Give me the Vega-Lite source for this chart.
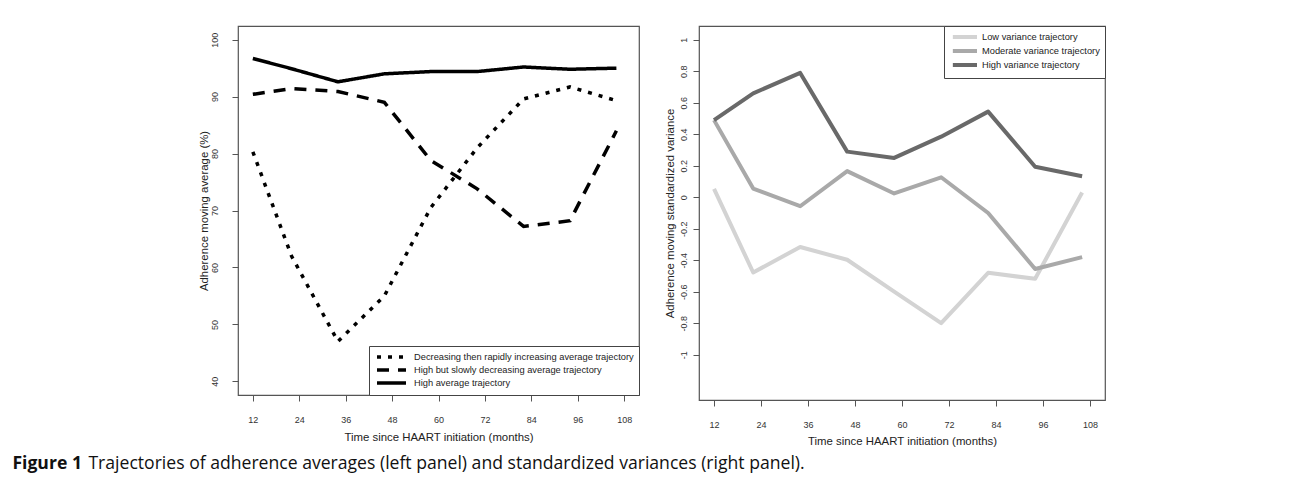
{
  "$schema": "https://vega.github.io/schema/vega-lite/v6.json",
  "background": "white",
  "padding": {"left": 12, "top": 24, "right": 0, "bottom": 0},
  "datasets": {
    "avg": [
      {"trajectory": "Decreasing then rapidly increasing average trajectory", "month": 12, "adherence": 80.3},
      {"trajectory": "Decreasing then rapidly increasing average trajectory", "month": 22, "adherence": 62},
      {"trajectory": "Decreasing then rapidly increasing average trajectory", "month": 34, "adherence": 47},
      {"trajectory": "Decreasing then rapidly increasing average trajectory", "month": 46, "adherence": 55},
      {"trajectory": "Decreasing then rapidly increasing average trajectory", "month": 58, "adherence": 70.5},
      {"trajectory": "Decreasing then rapidly increasing average trajectory", "month": 70, "adherence": 81},
      {"trajectory": "Decreasing then rapidly increasing average trajectory", "month": 82, "adherence": 89.6},
      {"trajectory": "Decreasing then rapidly increasing average trajectory", "month": 94, "adherence": 91.7},
      {"trajectory": "Decreasing then rapidly increasing average trajectory", "month": 106, "adherence": 89.3},
      {"trajectory": "High but slowly decreasing average trajectory", "month": 12, "adherence": 90.4},
      {"trajectory": "High but slowly decreasing average trajectory", "month": 22, "adherence": 91.4},
      {"trajectory": "High but slowly decreasing average trajectory", "month": 34, "adherence": 90.9},
      {"trajectory": "High but slowly decreasing average trajectory", "month": 46, "adherence": 89},
      {"trajectory": "High but slowly decreasing average trajectory", "month": 58, "adherence": 78.8},
      {"trajectory": "High but slowly decreasing average trajectory", "month": 70, "adherence": 73.8},
      {"trajectory": "High but slowly decreasing average trajectory", "month": 82, "adherence": 67.2},
      {"trajectory": "High but slowly decreasing average trajectory", "month": 94, "adherence": 68.2},
      {"trajectory": "High but slowly decreasing average trajectory", "month": 106, "adherence": 84},
      {"trajectory": "High average trajectory", "month": 12, "adherence": 96.7},
      {"trajectory": "High average trajectory", "month": 22, "adherence": 94.9},
      {"trajectory": "High average trajectory", "month": 34, "adherence": 92.6},
      {"trajectory": "High average trajectory", "month": 46, "adherence": 94.0},
      {"trajectory": "High average trajectory", "month": 58, "adherence": 94.4},
      {"trajectory": "High average trajectory", "month": 70, "adherence": 94.4},
      {"trajectory": "High average trajectory", "month": 82, "adherence": 95.2},
      {"trajectory": "High average trajectory", "month": 94, "adherence": 94.8},
      {"trajectory": "High average trajectory", "month": 106, "adherence": 95.0}
    ],
    "var": [
      {"trajectory": "Low variance trajectory", "month": 12, "variance": 0.053},
      {"trajectory": "Low variance trajectory", "month": 22, "variance": -0.478},
      {"trajectory": "Low variance trajectory", "month": 34, "variance": -0.316},
      {"trajectory": "Low variance trajectory", "month": 46, "variance": -0.397},
      {"trajectory": "Low variance trajectory", "month": 58, "variance": -0.6},
      {"trajectory": "Low variance trajectory", "month": 70, "variance": -0.8},
      {"trajectory": "Low variance trajectory", "month": 82, "variance": -0.48},
      {"trajectory": "Low variance trajectory", "month": 94, "variance": -0.518},
      {"trajectory": "Low variance trajectory", "month": 106, "variance": 0.03},
      {"trajectory": "Moderate variance trajectory", "month": 12, "variance": 0.49},
      {"trajectory": "Moderate variance trajectory", "month": 22, "variance": 0.055},
      {"trajectory": "Moderate variance trajectory", "month": 34, "variance": -0.057},
      {"trajectory": "Moderate variance trajectory", "month": 46, "variance": 0.166},
      {"trajectory": "Moderate variance trajectory", "month": 58, "variance": 0.024},
      {"trajectory": "Moderate variance trajectory", "month": 70, "variance": 0.127},
      {"trajectory": "Moderate variance trajectory", "month": 82, "variance": -0.1},
      {"trajectory": "Moderate variance trajectory", "month": 94, "variance": -0.456},
      {"trajectory": "Moderate variance trajectory", "month": 106, "variance": -0.38},
      {"trajectory": "High variance trajectory", "month": 12, "variance": 0.49},
      {"trajectory": "High variance trajectory", "month": 22, "variance": 0.66},
      {"trajectory": "High variance trajectory", "month": 34, "variance": 0.79},
      {"trajectory": "High variance trajectory", "month": 46, "variance": 0.29},
      {"trajectory": "High variance trajectory", "month": 58, "variance": 0.25},
      {"trajectory": "High variance trajectory", "month": 70, "variance": 0.385},
      {"trajectory": "High variance trajectory", "month": 82, "variance": 0.544},
      {"trajectory": "High variance trajectory", "month": 94, "variance": 0.194},
      {"trajectory": "High variance trajectory", "month": 106, "variance": 0.134}
    ]
  },
  "title": {
    "text": "Trajectories of adherence averages (left panel) and standardized variances (right panel).",
    "orient": "bottom",
    "anchor": "start",
    "font": "Open Sans",
    "fontSize": 17.6,
    "fontWeight": "normal",
    "color": "#111",
    "offset": 0,
    "dx": 76,
    "dy": -17.6
  },
  "vconcat": [
    {
      "title": {
        "text": "Figure 1",
        "orient": "bottom",
        "anchor": "start",
        "font": "Open Sans",
        "fontSize": 17.6,
        "fontWeight": "bold",
        "color": "#111",
        "offset": 8,
        "dx": -185
      },
      "resolve": {
        "scale": {"x": "independent", "y": "independent", "color": "independent", "strokeDash": "independent"},
        "legend": {"color": "independent", "strokeDash": "independent"}
      },
      "hconcat": [
        {
          "width": 401,
          "height": 369,
          "data": {"name": "avg"},
          "mark": {"type": "line", "color": "black", "strokeWidth": 3.5, "strokeCap": "butt"},
          "encoding": {
            "x": {
              "field": "month", "type": "quantitative",
              "scale": {"domain": [8.16, 111.84], "nice": false, "zero": false},
              "axis": {"values": [12, 24, 36, 48, 60, 72, 84, 96, 108], "title": "Time since HAART initiation (months)", "labelPadding": 14, "titlePadding": 7}
            },
            "y": {
              "field": "adherence", "type": "quantitative",
              "scale": {"domain": [37.6, 102.4], "nice": false, "zero": false},
              "axis": {"values": [40, 50, 60, 70, 80, 90, 100], "title": "Adherence moving average (%)", "labelAngle": -90, "labelAlign": "center", "labelBaseline": "bottom", "labelPadding": 13, "titlePadding": 1}
            },
            "strokeDash": {
              "field": "trajectory", "type": "nominal",
              "scale": {
                "domain": ["Decreasing then rapidly increasing average trajectory", "High but slowly decreasing average trajectory", "High average trajectory"],
                "range": [[4, 7], [12, 9], [1, 0]]
              },
              "legend": {"title": null, "orient": "bottom-right", "offset": 0, "symbolType": "M-0.75,0H6.5", "symbolSize": 64, "symbolStrokeColor": "black", "symbolStrokeWidth": 3.5, "labelOffset": 28, "padding": 5, "rowPadding": -6}
            }
          }
        },
        {
          "width": 406,
          "height": 374,
          "data": {"name": "var"},
          "mark": {"type": "line", "strokeWidth": 4, "strokeJoin": "round"},
          "encoding": {
            "x": {
              "field": "month", "type": "quantitative",
              "scale": {"domain": [8.16, 111.84], "nice": false, "zero": false},
              "axis": {"values": [12, 24, 36, 48, 60, 72, 84, 96, 108], "title": "Time since HAART initiation (months)", "labelPadding": 14, "titlePadding": 6}
            },
            "y": {
              "field": "variance", "type": "quantitative",
              "scale": {"domain": [-1.288, 1.088], "nice": false, "zero": false},
              "axis": {"values": [-1, -0.8, -0.6, -0.4, -0.2, 0, 0.2, 0.4, 0.6, 0.8, 1], "labelExpr": "toString(round(datum.value * 10) / 10)", "title": "Adherence moving standardized variance", "labelAngle": -90, "labelAlign": "center", "labelBaseline": "bottom", "labelPadding": 5, "titlePadding": 4}
            },
            "color": {
              "field": "trajectory", "type": "nominal",
              "scale": {
                "domain": ["Low variance trajectory", "Moderate variance trajectory", "High variance trajectory"],
                "range": ["#d3d3d3", "#a9a9a9", "#696969"]
              },
              "legend": {"title": null, "orient": "top-right", "offset": 0, "symbolType": "M-0.6,0H6.1", "symbolSize": 52, "symbolStrokeWidth": 4, "labelOffset": 21, "padding": 5, "rowPadding": -8}
            }
          }
        }
      ],
      "spacing": 22
    }
  ],
  "config": {
    "font": "Liberation Sans",
    "view": {"stroke": "#555", "strokeWidth": 1.2},
    "axis": {
      "grid": false,
      "domain": false,
      "ticks": true,
      "tickColor": "#555",
      "tickSize": 6,
      "labelFont": "Liberation Sans",
      "labelFontSize": 9,
      "labelColor": "#333",
      "titleFont": "Liberation Sans",
      "titleFontSize": 11.4,
      "titleFontWeight": "normal",
      "titleColor": "#222"
    },
    "legend": {
      "strokeColor": "#444",
      "fillColor": "white",
      "cornerRadius": 0,
      "labelFont": "Liberation Sans",
      "labelFontSize": 9.3,
      "labelColor": "#222",
      "labelLimit": 400
    }
  }
}
